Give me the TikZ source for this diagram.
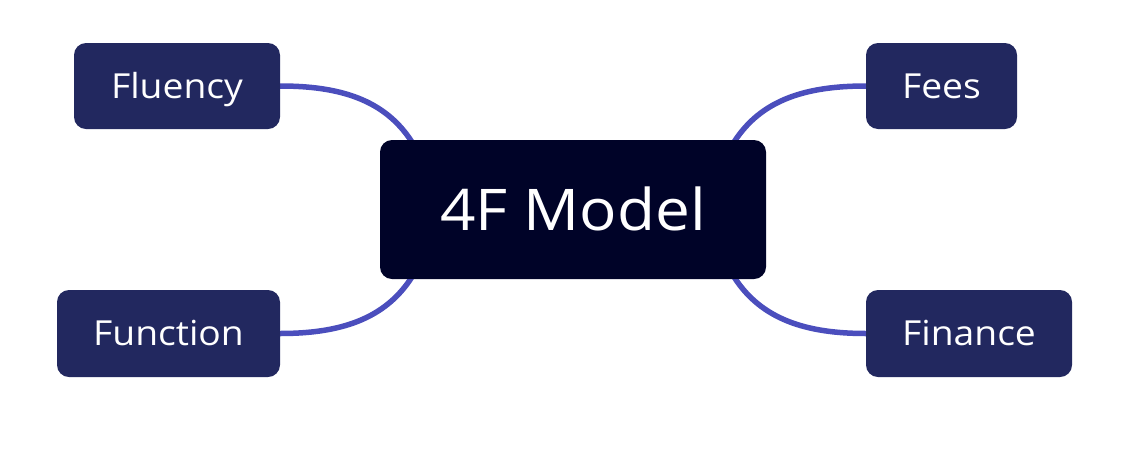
\documentclass[tikz,border=0pt]{standalone}
\usepackage{fontspec}
\setmainfont{Open Sans}[FakeStretch=1.08]
\usetikzlibrary{calc}
\pgfdeclarelayer{back}
\pgfsetlayers{back,main}
\definecolor{boxblue}{HTML}{22285F}
\definecolor{centerblue}{HTML}{000328}
\definecolor{linkblue}{HTML}{4B4EBD}
\tikzset{
  leaf/.style={fill=boxblue, rounded corners=12pt, inner sep=0pt, text=white,
    font=\fontsize{34.5}{34.5}\selectfont, text height=24.5pt, text depth=0pt},
  hub/.style={fill=centerblue, rounded corners=12pt, inner sep=0pt, text=white,
    font=\fontsize{57.5}{57.5}\selectfont, text height=41.5pt, text depth=0pt},
  link/.style={draw=linkblue, line width=5.5pt}
}
\begin{document}
\begin{tikzpicture}[x=1pt,y=-1pt]
\useasboundingbox (0,0) rectangle (1128,448);
\node[hub, minimum width=386pt, minimum height=139pt] (c) at (573,209.5) {4F Model};
\node[leaf, minimum width=206pt, minimum height=86pt] (fl) at (177,86) {Fluency};
\node[leaf, minimum width=223pt, minimum height=87pt] (fn) at (168.5,333.5) {Function};
\node[leaf, minimum width=151pt, minimum height=86pt] (fe) at (941.5,86) {Fees};
\node[leaf, minimum width=206pt, minimum height=87pt] (fi) at (969,333.5) {Finance};
\begin{pgfonlayer}{back}
\draw[link] (fl.east) .. controls ($(fl.east)+(60,0)$) and ($(c.north west)+(5,-40)$) .. ($(c.north west)+(32,2)$);
\draw[link] (fe.west) .. controls ($(fe.west)+(-60,0)$) and ($(c.north east)+(-5,-40)$) .. ($(c.north east)+(-32,2)$);
\draw[link] (fn.east) .. controls ($(fn.east)+(60,0)$) and ($(c.south west)+(5,40)$) .. ($(c.south west)+(32,-2)$);
\draw[link] (fi.west) .. controls ($(fi.west)+(-60,0)$) and ($(c.south east)+(-5,40)$) .. ($(c.south east)+(-32,-2)$);
\end{pgfonlayer}
\end{tikzpicture}
\end{document}
